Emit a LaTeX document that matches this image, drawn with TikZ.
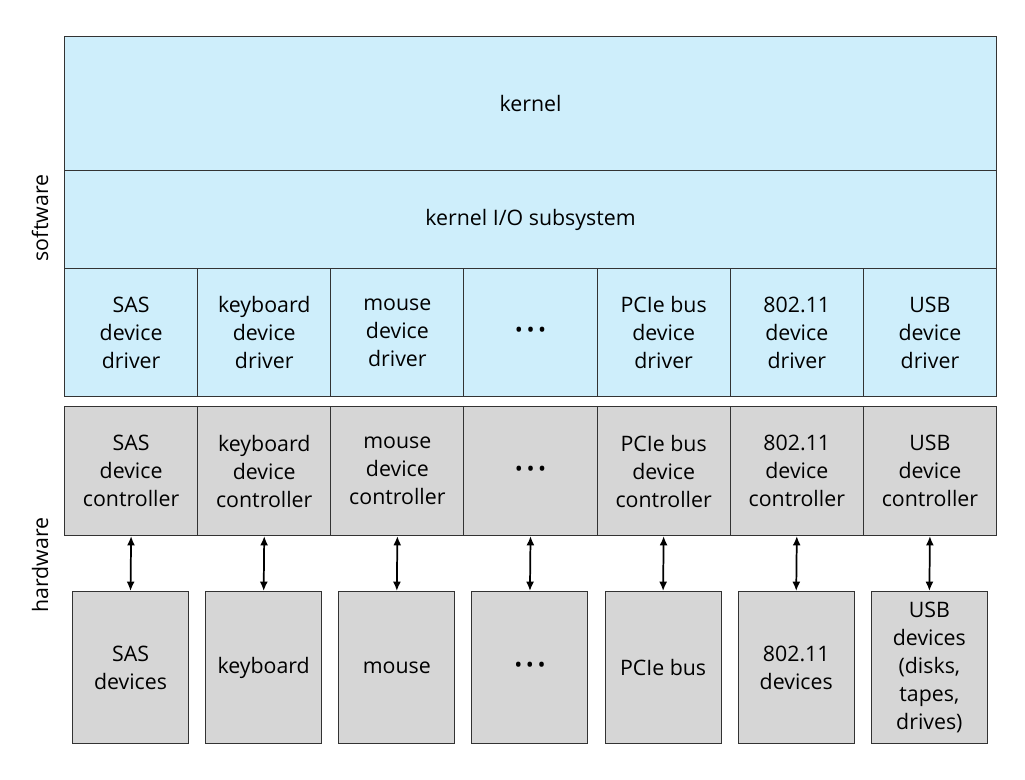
\documentclass[tikz,border=0pt]{standalone}
\usepackage{fontspec}
\usetikzlibrary{arrows.meta}
\setmainfont{Open Sans}
\definecolor{swc}{RGB}{206,238,251}
\definecolor{hwc}{RGB}{214,214,214}
\begin{document}
\begin{tikzpicture}[x=0.75pt,y=-0.75pt,
 sw/.style={draw=black!80,line width=0.8pt,fill=swc},
 hw/.style={draw=black!80,line width=0.8pt,fill=hwc},
 lab/.style={font=\fontsize{16}{21}\selectfont,align=center},
 arr/.style={{Latex[length=7pt,width=6pt]}-{Latex[length=7pt,width=6pt]},line width=1.3pt}]
\useasboundingbox (0,0) rectangle (1025,780);
\fill[white] (0,0) rectangle (1025,780);
\node[sw,minimum width=699pt,minimum height=100.5pt,anchor=north west,inner sep=0] (kernel) at (64,36) {};
\node[lab] at (kernel.center) {kernel};
\node[sw,minimum width=699pt,minimum height=73.5pt,anchor=north west,inner sep=0] (io) at (64,170) {};
\node[lab] at (io.center) {kernel I/O subsystem};
\def\colw{133.14}
\foreach \i/\d/\c/\v in {0/{SAS\\device\\driver}/{SAS\\device\\controller}/{SAS\\devices},
 1/{keyboard\\device\\driver}/{keyboard\\device\\controller}/{keyboard},
 2/{mouse\\device\\driver}/{mouse\\device\\controller}/{mouse},
 3/{\textbullet\,\textbullet\,\textbullet}/{\textbullet\,\textbullet\,\textbullet}/{\textbullet\,\textbullet\,\textbullet},
 4/{PCIe bus\\device\\driver}/{PCIe bus\\device\\controller}/{PCIe bus},
 5/{802.11\\device\\driver}/{802.11\\device\\controller}/{802.11\\devices},
 6/{USB\\device\\driver}/{USB\\device\\controller}/{USB\\devices\\(disks,\\tapes,\\drives)}}{
 \node[sw,minimum width=99.85pt,minimum height=96pt,anchor=north west,inner sep=0] (d\i) at (64+\i*\colw,268) {};
 \node[lab] at (d\i.center) {\d};
 \node[hw,minimum width=99.85pt,minimum height=96.75pt,anchor=north west,inner sep=0] (c\i) at (64+\i*\colw,406) {};
 \node[lab] at (c\i.center) {\c};
 \node[hw,minimum width=87pt,minimum height=114pt,anchor=north west,inner sep=0] (v\i) at (72+\i*\colw,591) {};
 \node[lab] at (v\i.center) {\v};
 \draw[arr] (c\i.south) -- (v\i.north);
}
\node[lab,rotate=90] (s) at (40,218) {software};
\node[lab,rotate=90] (h) at (40,565) {hardware};
\end{tikzpicture}
\end{document}
